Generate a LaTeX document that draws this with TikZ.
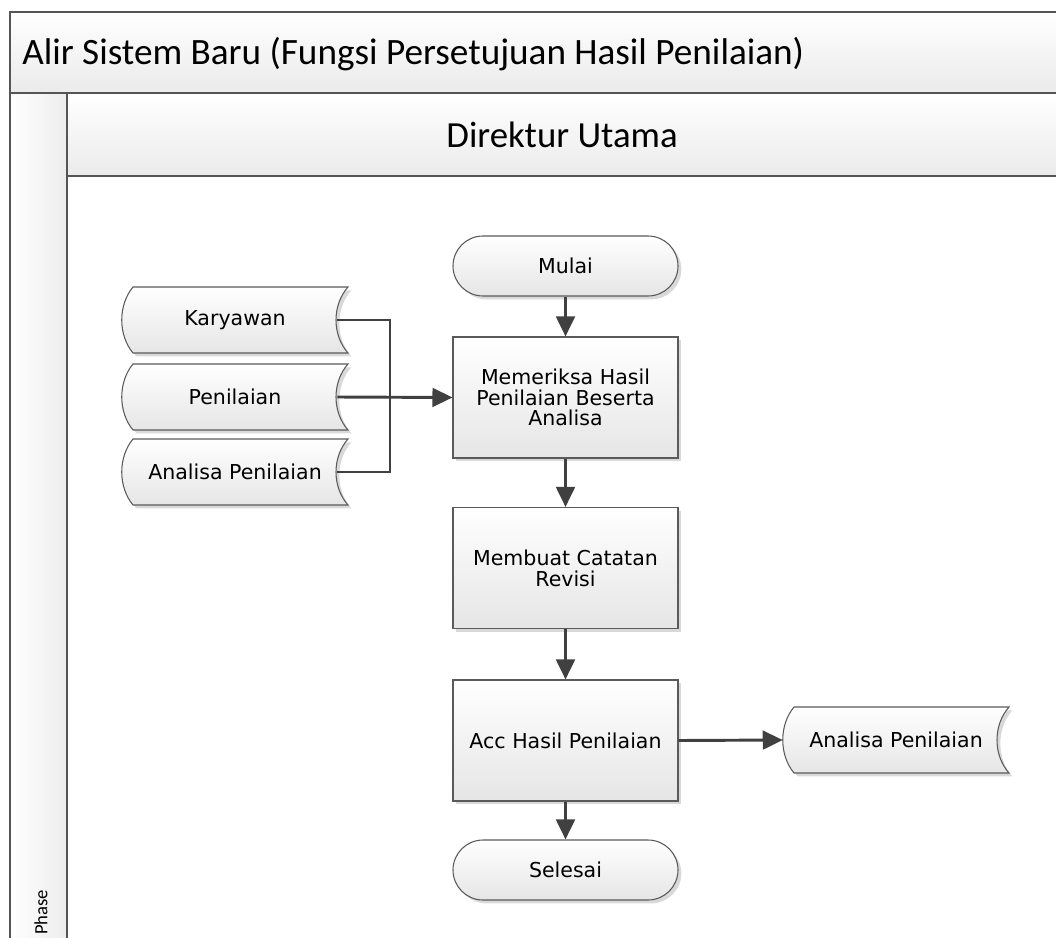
\documentclass[tikz,border=0pt]{standalone}
\usepackage{fontspec}
\setmainfont{Carlito}
\newfontfamily\nodefont{DejaVu Sans}
\usetikzlibrary{arrows.meta,shadows}
\definecolor{conn}{HTML}{404040}
\definecolor{edge}{HTML}{5A5A5A}
\definecolor{framec}{HTML}{555555}
\tikzset{
  every node/.style={inner sep=0pt},
  nodetext/.style={font=\nodefont\fontsize{15.4}{15.6}\selectfont},
  fillgrad/.style={top color=white,bottom color=black!10},
  shp/.style={draw=edge,line width=0.8pt,fillgrad,
    general shadow={fill=black!15,draw=none,shadow xshift=2.5pt,shadow yshift=-2.5pt}},
  procbox/.style={shp,rectangle,minimum width=168.75pt,minimum height=90.75pt,align=center,nodetext},
  termbox/.style={shp,rectangle,rounded corners=22.5pt,minimum width=168.75pt,minimum height=45pt,nodetext},
  docnode/.style={rectangle,minimum width=169.5pt,minimum height=49.5pt,nodetext},
  framel/.style={draw=framec,line width=1.1pt},
  flow/.style={draw=conn,line width=2.2pt},
  flowarrow/.style={flow,-{Triangle[length=15pt,width=14pt]}},
}
% stored-data shape: centre x, centre y (px)
\newcommand{\storeddata}[2]{%
  \path[shp] (#1-102,#2-33) -- (#1+113,#2-33)
    .. controls (#1+97,#2-15) and (#1+97,#2+15) .. (#1+113,#2+33)
    -- (#1-102,#2+33)
    .. controls (#1-117,#2+15) and (#1-117,#2-15) .. (#1-102,#2-33) -- cycle;}
\begin{document}
\begin{tikzpicture}[x=0.75pt,y=-0.75pt]
\useasboundingbox (0,0) rectangle (1056,938);
% ---- frame ----
\begin{scope}
\clip (0,0) rectangle (1056,938);
\path[top color=white,bottom color=black!8] (10,12) rectangle (1070,93);
\path[left color=white,right color=black!7] (10,93) rectangle (67,950);
\path[top color=white,bottom color=black!8] (67,93) rectangle (1070,176);
\draw[framel] (1070,12) -- (10,12) -- (10,950);
\draw[framel] (10,93) -- (1070,93);
\draw[framel] (67,93) -- (67,950);
\draw[framel] (67,176) -- (1070,176);
\end{scope}
\node[anchor=west,font=\fontsize{27.9}{30}\selectfont] (title) at (22,54) {Alir Sistem Baru (Fungsi Persetujuan Hasil Penilaian)};
\node[font=\fontsize{27.6}{30}\selectfont] (lane) at (562,135) {Direktur Utama};
\node[rotate=90,anchor=west,font=\fontsize{14}{14}\selectfont] (phase) at (41,935) {Phase};
% ---- documents ----
\storeddata{235}{320}
\node[docnode] (kar) at (235,320) {Karyawan};
\storeddata{235}{397}
\node[docnode] (pen) at (235,397) {Penilaian};
\storeddata{235}{472}
\node[docnode] (ana) at (235,472) {Analisa Penilaian};
\storeddata{896}{740}
\node[docnode] (out) at (896,740) {Analisa Penilaian};
% ---- flow ----
\node[termbox] (mulai) at (565.5,266) {Mulai};
\node[procbox] (mem) at (565.5,397.5) {Memeriksa Hasil\\Penilaian Beserta\\Analisa};
\node[procbox] (buat) at (565.5,568) {Membuat Catatan\\Revisi};
\node[procbox] (acc) at (565.5,740.5) {Acc Hasil Penilaian};
\node[termbox] (selesai) at (565.5,870) {Selesai};
\coordinate (join) at (390,397);
% ---- connectors ----
\draw[flow] ([xshift=-8.25pt]kar.east) -| (join);
\draw[flow] ([xshift=-8.25pt]ana.east) -| (join);
\draw[flowarrow] ([xshift=-8.25pt]pen.east) -- (mem.west);
\draw[flowarrow] (mulai) -- (mem);
\draw[flowarrow] (mem) -- (buat);
\draw[flowarrow] (buat) -- (acc);
\draw[flowarrow] (acc) -- (selesai);
\draw[flowarrow] (acc.east) -- (out.west);
\end{tikzpicture}
\end{document}
